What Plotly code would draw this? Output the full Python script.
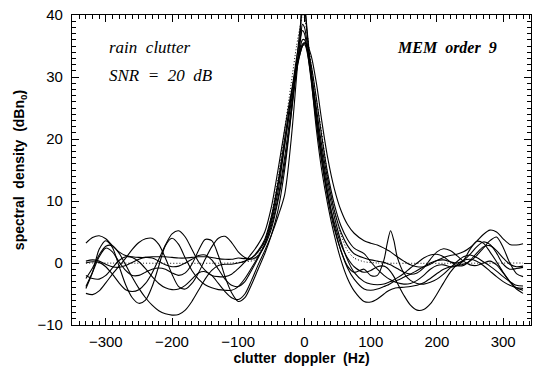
import plotly.graph_objects as go

# frequency grid (Hz) shared by the MEM estimates
freq = ([-330, -320, -310, -300, -290, -280, -270, -260, -250, -240, -230, -220,
         -210, -200, -190, -180, -170, -160, -150, -140, -130, -120, -110] +
        [-100, -90, -80, -70, -60, -50, -40, -30, -20, -12, -6, -3, 0, 4, 10,
         18, 26, 35, 45, 55, 65, 75] +
        [90, 100, 110, 120, 125, 130, 135, 140, 150, 160, 170, 180, 190, 200,
         210, 220, 230, 240, 250, 260, 270, 280, 290, 300, 310, 320, 330])

mem1 = ([3.2, 4.1, 4.4, 3.9, 2.8, 1.8, 1.2, 1.0, 0.9, 0.9, 1.0, 1.0, 1.0, 0.9, 0.8, 0.8, 0.9, 1.0, 1.0, 0.9, 0.7, 0.6, 0.6] +
        [0.8, 0.7, 0.8, 1.8, 3.5, 7.0, 12.5, 19.0, 26.0, 31.0, 34.0, 35.0, 35.5, 35.2, 33.5, 29.0, 23.0, 17.0, 12.0, 8.5, 6.2, 4.8] +
        [3.6, 3.2, 2.9, 2.4, 2.1, 1.8, 1.4, 1.0, 0.3, -0.3, -0.6, -0.6, -0.2, 0.4, 0.9, 1.2, 1.4, 1.8, 2.5, 3.5, 4.6, 5.3, 5.0, 3.9, 3.0, 2.9, 3.1])
mem2 = ([-4.1, -1.5, 2.2, 3.6, 2.5, -0.5, -3.5, -5.6, -6.5, -6.0, -3.8, -0.5, 2.8, 4.0, 3.0, 0.8, -1.2, -2.6, -3.5, -4.0, -4.3, -4.4, -4.4] +
        [-3.8, -2.5, -0.8, 1.0, 3.0, 6.5, 11.5, 19.0, 27.0, 33.0, 36.5, 37.5, 37.0, 34.5, 29.5, 22.5, 16.5, 11.0, 6.5, 3.0, 0.8, -0.6] +
        [-1.5, -1.2, -0.6, -0.5, -0.8, -1.4, -2.2, -3.2, -5.2, -6.8, -7.6, -7.5, -6.6, -5.0, -3.2, -1.5, -0.3, 0.4, 0.6, 0.3, -0.4, -1.3, -2.2, -3.0, -3.6, -4.0, -4.1])
mem3 = ([-4.9, -5.1, -4.5, -3.2, -1.8, -0.5, 0.8, 2.2, 3.3, 3.9, 4.0, 3.0, 0.8, -1.8, -3.8, -4.2, -3.3, -1.6, 0.6, 2.6, 4.0, 4.3, 3.3] +
        [1.8, 0.9, 0.6, 1.2, 2.8, 5.5, 10.0, 16.0, 24.0, 31.0, 36.0, 38.5, 38.0, 35.5, 31.0, 25.0, 19.0, 13.5, 8.5, 5.0, 2.8, 1.5] +
        [0.8, 0.5, 0.3, 0.1, -0.1, -0.3, -0.6, -0.9, -1.5, -1.8, -1.6, -0.8, 0.6, 1.8, 2.3, 2.0, 1.2, 0.3, -0.3, -0.4, 0.0, 0.3, -0.3, -1.6, -3.0, -4.0, -4.4])
mem4 = ([0.0, 0.2, 0.1, -0.6, -1.8, -3.2, -4.3, -4.6, -4.3, -3.3, -1.6, 0.6, 2.9, 4.7, 5.2, 4.2, 2.2, 0.2, -1.2, -2.0, -2.2, -2.2, -1.8] +
        [-0.9, 0.2, 1.5, 3.0, 5.0, 9.0, 15.0, 21.5, 27.5, 31.5, 34.0, 35.0, 35.2, 34.5, 32.0, 26.5, 20.5, 14.5, 9.5, 6.0, 3.8, 2.4] +
        [1.5, 0.2, -1.0, -2.0, -2.4, -2.7, -3.0, -3.2, -3.4, -3.3, -2.8, -2.0, -1.0, -0.4, -0.3, -0.6, -0.5, 0.4, 2.2, 3.5, 3.2, 1.8, 0.2, -1.5, -3.0, -4.2, -4.9])
mem5 = ([-2.5, -0.8, 1.3, 2.7, 2.8, 1.6, -0.3, -2.3, -4.1, -5.6, -6.8, -7.7, -8.2, -8.4, -8.3, -7.6, -6.2, -4.4, -2.6, -1.2, -0.4, -0.2, -0.2] +
        [0.0, 0.3, 0.8, 2.0, 3.8, 7.5, 13.0, 20.0, 27.0, 32.0, 34.5, 35.3, 35.5, 34.0, 30.0, 23.0, 16.5, 10.5, 5.5, 2.0, -0.5, -1.5] +
        [-1.0, -2.0, -2.0, 0.5, 3.2, 5.2, 3.6, 1.0, -1.6, -2.8, -3.3, -3.4, -3.1, -2.6, -1.8, -0.8, 0.2, 1.0, 1.3, 0.9, 0.2, -0.5, -1.3, -2.2, -3.0, -3.6, -3.7])
mem6 = ([-3.8, -1.5, 1.0, 2.4, 1.8, 0.2, -1.2, -2.0, -2.0, -1.5, -1.0, -0.8, -1.0, -1.6, -2.0, -1.6, -0.2, 2.0, 3.8, 3.6, 1.2, -2.2, -4.8] +
        [-6.2, -5.6, -3.5, -1.0, 1.5, 4.5, 8.5, 15.0, 24.0, 32.5, 38.5, 41.5, 41.0, 37.0, 30.0, 21.5, 15.0, 9.5, 4.5, 0.5, -2.5, -4.5] +
        [-6.2, -6.3, -5.8, -5.0, -4.6, -4.3, -4.1, -4.0, -3.9, -3.8, -3.6, -3.2, -2.5, -1.7, -1.0, -0.6, -0.4, -0.2, 0.3, 1.2, 2.4, 3.6, 4.2, 2.5, 0.0, -1.7, -2.2])
mem7 = ([0.3, 0.5, 0.3, -0.2, -0.6, -0.7, -0.4, 0.1, 0.6, 0.9, 0.8, 0.3, -0.3, -0.6, -0.5, 0.0, 0.6, 1.2, 1.3, 0.5, -1.0, -2.6, -3.6] +
        [-3.8, -3.0, -1.2, 0.8, 3.0, 6.0, 10.5, 17.0, 25.0, 31.5, 35.0, 36.0, 36.0, 34.5, 30.5, 24.0, 17.5, 11.5, 6.0, 2.0, -0.8, -2.6] +
        [-4.2, -4.4, -4.2, -3.8, -3.6, -3.3, -3.0, -2.8, -2.3, -1.8, -1.2, -0.6, 0.0, 0.4, 0.5, 0.2, 0.0, 0.4, 1.4, 2.6, 3.4, 3.0, 1.6, -0.2, -1.0, -0.9, -0.7])
mem8 = ([-2.0, -2.5, -2.6, -2.0, -0.8, 0.4, 1.0, 0.9, 0.2, -0.9, -2.2, -3.3, -4.0, -4.3, -4.2, -3.6, -2.6, -1.6, -1.4, -2.0, -3.3, -4.6, -5.6] +
        [-5.9, -5.0, -2.8, -0.3, 2.0, 4.5, 7.5, 11.0, 20.0, 30.0, 37.5, 42.0, 41.5, 37.5, 31.0, 24.0, 18.0, 12.5, 7.5, 3.5, 0.5, -1.5] +
        [-3.0, -3.4, -3.5, -3.4, -3.2, -3.0, -2.7, -2.4, -1.7, -0.8, 0.0, 0.8, 1.3, 1.4, 1.0, 0.2, -0.4, -0.4, 0.4, 1.6, 2.6, 2.8, 2.0, 0.8, -0.2, -0.6, -0.5])

# true (model) spectrum, dotted
true_freq = [-330, -110, -90, -75, -60, -50, -40, -30, -20, -12, -6, -3, 0, 4, 10,
             18, 26, 35, 45, 55, 65, 75, 90, 110, 330]
true_db = [0, 0, 0.2, 0.5, 3.5, 7.5, 13.5, 21.5, 29, 35, 38.5, 40, 39.5, 37, 32,
           26.5, 21, 14, 8.5, 4.5, 2, 0.8, 0.2, 0, 0]

x_range = [-351, 342]
y_range = [-10, 40]

fig = go.Figure()
fig.add_trace(go.Scatter(x=true_freq, y=true_db, mode="lines",
                         line=dict(color="black", width=1, dash="1px,2px", shape="spline", smoothing=0.6),
                         showlegend=False, hoverinfo="skip"))
for s in [mem1, mem2, mem3, mem4, mem5, mem6, mem7, mem8]:
    fig.add_trace(go.Scatter(x=freq, y=s, mode="lines",
                             line=dict(color="black", width=1.1, shape="spline", smoothing=0.8),
                             showlegend=False, hoverinfo="skip"))
# empty helper traces so the overlay tick axes exist
for k in (2, 3, 4):
    fig.add_trace(go.Scatter(x=[], y=[], xaxis=f"x{k}", yaxis=f"y{k}",
                             showlegend=False, hoverinfo="skip"))

tick_font = dict(family="Liberation Sans, Arial, sans-serif", size=15, color="black")
title_font = dict(family="Liberation Sans, Arial, sans-serif", size=14, color="black")
base = dict(showline=True, linecolor="black", linewidth=1.2, mirror="ticks",
            ticks="inside", tickwidth=1.1, tickcolor="black",
            showgrid=False, zeroline=False, automargin=False)

def overlay(ax, side, anchor, tick0, dtick, rng, length):
    return dict(overlaying=ax, side=side, anchor=anchor, range=rng, tickmode="linear",
                tick0=tick0, dtick=dtick, ticklen=length, showticklabels=False,
                fixedrange=True, **base)

fig.update_layout(
    xaxis=dict(range=x_range, tickmode="linear", tick0=-300, dtick=100, ticklen=7,
               tickfont=tick_font, ticklabelstandoff=3,
               title=dict(text="<b>clutter  doppler  (Hz)</b>", standoff=4, font=title_font),
               **base),
    yaxis=dict(range=y_range, tickmode="linear", tick0=-10, dtick=10, ticklen=7,
               tickfont=tick_font, ticklabelstandoff=5,
               title=dict(text="<b>spectral  density  (dBn<sub>0</sub>)</b>", standoff=9, font=title_font),
               **base),
    xaxis2=overlay("x", "top", "y", -300, 100, x_range, 7),
    xaxis3=overlay("x", "bottom", "y", -350, 10, x_range, 4),
    xaxis4=overlay("x", "top", "y", -350, 10, x_range, 4),
    yaxis2=overlay("y", "right", "x", -10, 10, y_range, 7),
    yaxis3=overlay("y", "left", "x", -10, 1, y_range, 4),
    yaxis4=overlay("y", "right", "x", -10, 1, y_range, 4),
)

ann_font = dict(family="Liberation Serif, Times New Roman, serif", size=17, color="black")
fig.add_annotation(x=-298, y=34.7, xref="x", yref="y", text="<i>rain  clutter</i>",
                   showarrow=False, xanchor="left", yanchor="middle", font=ann_font)
fig.add_annotation(x=-298, y=30.2, xref="x", yref="y", text="<i>SNR  =  20  dB</i>",
                   showarrow=False, xanchor="left", yanchor="middle", font=ann_font)
fig.add_annotation(x=137, y=34.7, xref="x", yref="y", text="<i><b>MEM  order  9</b></i>",
                   showarrow=False, xanchor="left", yanchor="middle",
                   font=dict(family="Liberation Serif, Times New Roman, serif", size=16, color="black"))

fig.update_layout(width=533, height=366, margin=dict(l=72, r=2, t=15, b=41),
                  paper_bgcolor="white", plot_bgcolor="white", showlegend=False)
fig.write_html("out.html")
